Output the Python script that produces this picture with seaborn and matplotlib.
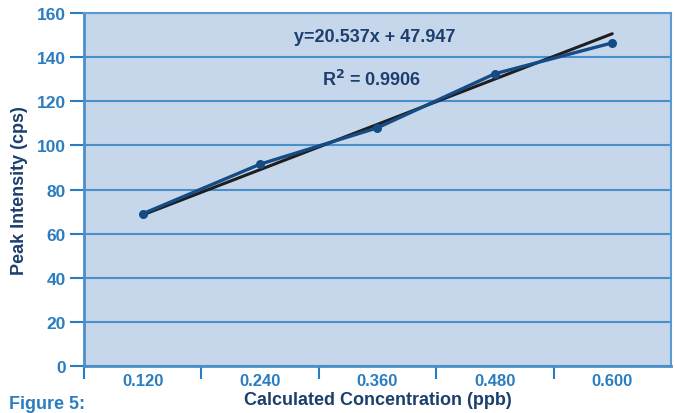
import numpy as np
import matplotlib
matplotlib.use("Agg")
import matplotlib.pyplot as plt
import seaborn as sns

# data
concentrations = ["0.120", "0.240", "0.360", "0.480", "0.600"]
peak_intensity = [69.0, 91.5, 108.0, 132.5, 146.5]
slope, intercept = 20.537, 47.947
r_squared = 0.9906

sns.set_theme(style="white")
plt.rcParams["font.family"] = ["Liberation Sans", "DejaVu Sans"]

TICK_BLUE = "#2a7dc0"
NAVY = "#1c3f6e"
GRID = "#4a90c8"
BG = "#c6d6eb"

fig = plt.figure(figsize=(6.75, 4.14), dpi=100)
ax = fig.add_axes([0.1244, 0.1135, 0.8696, 0.8525])
ax.set_facecolor(BG)

idx = np.arange(len(concentrations))
trend = slope * (idx + 1) + intercept

sns.lineplot(x=idx, y=peak_intensity, ax=ax, color="#154c86", lw=2.4,
             marker="o", markersize=6.5, markeredgewidth=0, zorder=4)
sns.lineplot(x=idx, y=trend, ax=ax, color="#1e1e1e", lw=2.2, zorder=3)

ax.set_xlim(-0.5, 4.5)
ax.set_ylim(0, 160)
ax.set_yticks(np.arange(0, 161, 20))
ax.set_xticks(idx)
ax.set_xticklabels(concentrations)
ax.set_xticks(np.arange(-0.5, 4.0, 1.0), minor=True)
ax.tick_params(axis="x", which="major", length=0, pad=5, labelsize=12, labelcolor=TICK_BLUE)
ax.tick_params(axis="x", which="minor", length=9, width=1.5, color=TICK_BLUE, direction="out", bottom=True)
ax.tick_params(axis="y", length=10, width=1.5, color=TICK_BLUE, direction="out", left=True,
               pad=3, labelsize=12.5, labelcolor=TICK_BLUE)
for lab in ax.get_xticklabels() + ax.get_yticklabels():
    lab.set_fontweight("bold")

ax.grid(axis="y", color=GRID, lw=1.5)
ax.set_axisbelow(True)
for side in ["left", "bottom"]:
    ax.spines[side].set_color(GRID)
    ax.spines[side].set_linewidth(2)
for side in ["top", "right"]:
    ax.spines[side].set_color("#5a9ad0")
    ax.spines[side].set_linewidth(1.5)

ax.set_xlabel("Calculated Concentration (ppb)", color=NAVY, fontsize=13,
              fontweight="bold", labelpad=2)
ax.set_ylabel("Peak Intensity (cps)", color=NAVY, fontsize=13,
              fontweight="bold", labelpad=6)

ax.text(1.98, 149.6, f"y={slope}x + {intercept}", color=NAVY, fontsize=13,
        fontweight="bold", ha="center", va="center")
ax.text(1.95, 130.0, f"R$^\\mathbf{{2}}$ = {r_squared}", color=NAVY, fontsize=13,
        fontweight="bold", ha="center", va="center")

fig.text(0.013, 0.003, "Figure 5:", color=TICK_BLUE, fontsize=13, fontweight="bold",
         ha="left", va="bottom")

fig.savefig("out.png", dpi=100)
